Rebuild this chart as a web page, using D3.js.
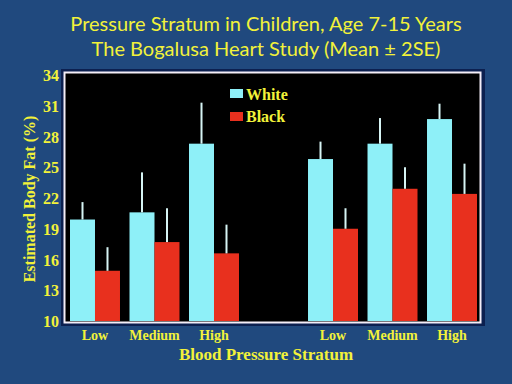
<!DOCTYPE html>
<html><head><meta charset="utf-8">
<script src="https://cdn.jsdelivr.net/npm/d3@7"></script>
<style>html,body{margin:0;padding:0;background:#20497e;}svg{display:block;}</style>
</head><body>
<script>
const slots = ["S-Low","S-Medium","S-High","gap","D-Low","D-Medium","D-High"];
const tickLabels = ["Low","Medium","High","","Low","Medium","High"];
const series = ["White","Black"];
const whiteMean = [19.9, 20.6, 27.3, null, 25.8, 27.3, 29.7];
const whiteUpper = [21.6, 24.5, 31.3, null, 27.5, 29.8, 31.2];
const blackMean = [14.9, 17.7, 16.6, null, 19.0, 22.9, 22.4];
const blackUpper = [17.2, 21.0, 19.4, null, 21.0, 25.0, 25.35];
const yTicks = [10,13,16,19,22,25,28,31,34];

const W=512,H=384;
const colors={White:"#8ef0f8",Black:"#e8301e"};
const yellow="#f2f23a";
const svg=d3.select("body").append("svg").attr("width",W).attr("height",H);
svg.append("rect").attr("width",W).attr("height",H).attr("fill","#20497e");

const x0=d3.scaleBand().domain(slots).range([70,477]).paddingInner(0.16).paddingOuter(0);
const x1=d3.scaleBand().domain(series).range([0,x0.bandwidth()]);
const y=d3.scaleLinear().domain([10,34]).range([321,75]);

// frame
svg.append("rect").attr("x",61).attr("y",69).attr("width",424).attr("height",257).attr("fill","#0c2050");
svg.append("rect").attr("x",65).attr("y",73).attr("width",415).attr("height",249).attr("fill","#000");

const rows=slots.map((s,i)=>({slot:s,vals:[
  {k:"White",v:whiteMean[i],u:whiteUpper[i]},
  {k:"Black",v:blackMean[i],u:blackUpper[i]}]})).filter(d=>d.vals[0].v!=null);

const g=svg.append("g").selectAll("g").data(rows).join("g")
  .attr("transform",d=>`translate(${x0(d.slot)},0)`);
g.selectAll("rect").data(d=>d.vals).join("rect")
  .attr("x",d=>x1(d.k)).attr("width",x1.bandwidth())
  .attr("y",d=>y(d.v)).attr("height",d=>y(10)-y(d.v)).attr("fill",d=>colors[d.k]);
g.selectAll("line").data(d=>d.vals).join("line")
  .attr("x1",d=>x1(d.k)+x1.bandwidth()/2).attr("x2",d=>x1(d.k)+x1.bandwidth()/2)
  .attr("y1",d=>y(d.v)).attr("y2",d=>y(d.u)).attr("stroke","#d6f4f4").attr("stroke-width",2);

// white border
svg.append("rect").attr("x",64.5).attr("y",72.5).attr("width",416).attr("height",250)
  .attr("fill","none").attr("stroke","#f4eef8").attr("stroke-width",2);

// y axis
const ya=svg.append("g").attr("transform","translate(59,0)")
  .call(d3.axisLeft(y).tickValues(yTicks).tickSize(0).tickPadding(0));
ya.select(".domain").remove();
ya.selectAll("text").attr("fill",yellow).attr("font-family","Liberation Serif")
  .attr("font-weight","bold").attr("font-size",16).attr("dy","0.35em");

// x axis
const xa=svg.append("g").attr("transform","translate(0,330)")
  .call(d3.axisBottom(x0).tickFormat((d,i)=>tickLabels[i]).tickSize(0).tickPadding(0));
xa.select(".domain").remove();
xa.selectAll("text").attr("fill",yellow).attr("font-family","Liberation Serif")
  .attr("font-weight","bold").attr("font-size",14).attr("dy","0.71em");

// legend
const lg=svg.append("g");
series.forEach((s,i)=>{
  lg.append("rect").attr("x",230).attr("y",89+i*23).attr("width",13).attr("height",9).attr("fill",colors[s]);
  lg.append("text").attr("x",246).attr("y",100+i*22).text(s).attr("fill",yellow)
    .attr("font-family","Liberation Serif").attr("font-weight","bold").attr("font-size",16);
});

// titles
svg.append("text").attr("x",266).attr("y",31).attr("text-anchor","middle").attr("fill",yellow)
  .attr("font-family","Lato").attr("font-size",20).text("Pressure Stratum in Children, Age 7-15 Years");
svg.append("text").attr("x",266).attr("y",56).attr("text-anchor","middle").attr("fill",yellow)
  .attr("font-family","Lato").attr("font-size",20).text("The Bogalusa Heart Study (Mean ± 2SE)");
svg.append("text").attr("x",266).attr("y",360).attr("text-anchor","middle").attr("fill",yellow)
  .attr("font-family","Liberation Serif").attr("font-weight","bold").attr("font-size",17).text("Blood Pressure Stratum");
svg.append("text").attr("transform","translate(35,199) rotate(-90)").attr("text-anchor","middle").attr("fill",yellow)
  .attr("font-family","Liberation Serif").attr("font-weight","bold").attr("font-size",16).text("Estimated Body Fat (%)");
</script>
</body></html>
